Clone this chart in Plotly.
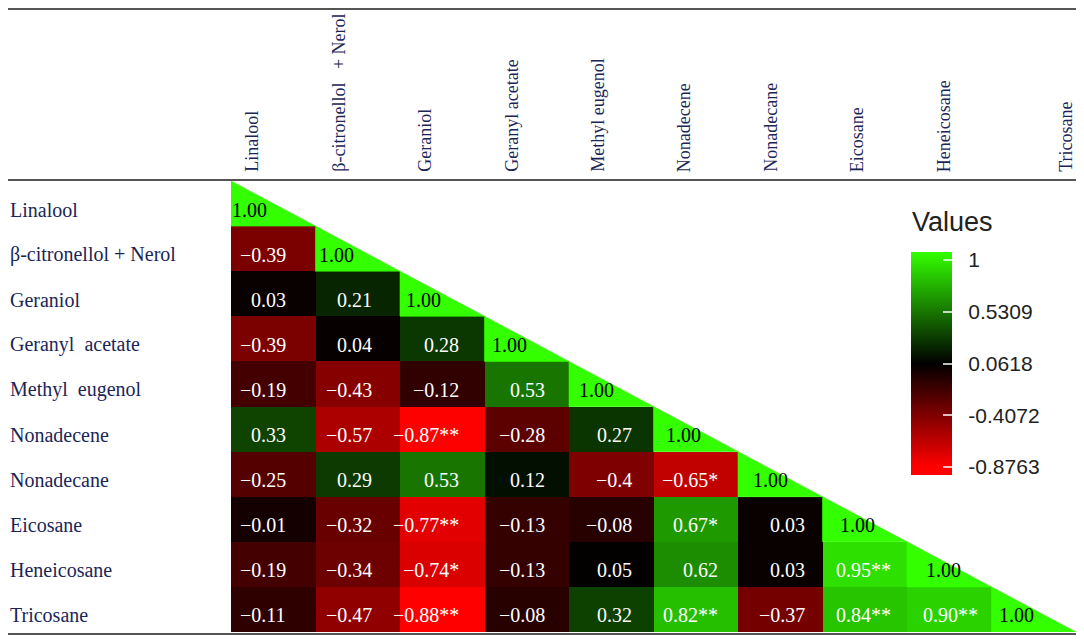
"""lower-triangle correlation heatmap of volatile compounds"""

import plotly.graph_objects as go

# compound names (rows top to bottom, columns left to right)
compounds = ['Linalool', 'β-citronellol + Nerol', 'Geraniol', 'Geranyl  acetate', 'Methyl  eugenol',
             'Nonadecene', 'Nonadecane', 'Eicosane', 'Heneicosane', 'Tricosane']
# column headers as printed on top
headers = ['Linalool', 'β-citronellol   + Nerol', 'Geraniol', 'Geranyl acetate', 'Methyl eugenol',
           'Nonadecene', 'Nonadecane', 'Eicosane', 'Heneicosane', 'Tricosane']

# lower triangle of the correlation matrix, as printed (stars = significance)
corr_rows = [
    [],
    ['-0.39'],
    ['0.03', '0.21'],
    ['-0.39', '0.04', '0.28'],
    ['-0.19', '-0.43', '-0.12', '0.53'],
    ['0.33', '-0.57', '-0.87**', '-0.28', '0.27'],
    ['-0.25', '0.29', '0.53', '0.12', '-0.4', '-0.65*'],
    ['-0.01', '-0.32', '-0.77**', '-0.13', '-0.08', '0.67*', '0.03'],
    ['-0.19', '-0.34', '-0.74*', '-0.13', '0.05', '0.62', '0.03', '0.95**'],
    ['-0.11', '-0.47', '-0.88**', '-0.08', '0.32', '0.82**', '-0.37', '0.84**', '0.90**'],
]
diag_text = '1.00'

# colorbar ticks
cbar_ticks = [1, 0.5309, 0.0618, -0.4072, -0.8763]

n = len(compounds)
# the page has an 8px body margin, keep the figure inside the window
PAD = 8
W, H = 1084 - 2 * PAD, 643 - 2 * PAD
navy = '#1b2657'
green = '#33ff00'

# colour range: bar runs a bit past the outer ticks, black sits on the middle tick
zlo, zhi = -0.95, 1.0736
red_stop = (min(cbar_ticks) - zlo) / (zhi - zlo)
mid_stop = (cbar_ticks[2] - zlo) / (zhi - zlo)


def px_x(x):
    # window pixel -> paper x
    return min(max((x - PAD) / W, 0), 1)


def px_y(y):
    # window pixel -> paper y
    return min(max(1 - (y - PAD) / H, 0), 1)


# build z matrix (nan on/above the diagonal)
z = [[None] * n for _ in range(n)]
for i, row in enumerate(corr_rows):
    for j, s in enumerate(row):
        z[i][j] = float(s.rstrip('*'))

fig = go.Figure()

fig.add_trace(go.Heatmap(
    z=z, x=list(range(n)), y=list(range(n)),
    zmin=zlo, zmax=zhi,
    colorscale=[[0, '#ff0000'], [red_stop, '#ff0000'], [mid_stop, '#000000'], [1, green]],
    hoverongaps=False,
    colorbar=dict(
        tickvals=cbar_ticks, ticktext=['\u00a0\u00a0' + str(t) for t in cbar_ticks],
        tickfont=dict(family='Liberation Sans', size=21, color='#222'),
        ticks='inside', ticklen=9, tickcolor='rgba(255,255,255,0.75)', tickwidth=1.5,
        thickness=41, thicknessmode='pixels',
        len=223, lenmode='pixels',
        x=px_x(911), xanchor='left', y=px_y(252), yanchor='top',
        xpad=0, ypad=0, outlinewidth=0,
    ),
))

# diagonal cells: green lower-left triangles
tx, ty = [], []
for i in range(n):
    tx += [i - 0.5, i - 0.5, i + 0.5, i - 0.5, None]
    ty += [i - 0.5, i + 0.5, i + 0.5, i - 0.5, None]
fig.add_trace(go.Scatter(x=tx, y=ty, mode='lines', fill='toself', fillcolor=green,
                         line=dict(color=green, width=0.6), hoverinfo='skip', showlegend=False))

annotations = []
# cell values (right aligned, the printed grid drifts a little to the right)
for i, row in enumerate(corr_rows):
    for j, s in enumerate(row):
        annotations.append(dict(x=j + 0.5, y=i, xref='x', yref='y', text=s.replace('-', '−'),
                                showarrow=False, xanchor='right', xshift=-28 + 2 * j, yshift=-6,
                                font=dict(family='Liberation Serif', size=20, color='white')))
    dshift = -1 + 2.3 * i if i < n - 1 else 5
    annotations.append(dict(x=i - 0.5, y=i, xref='x', yref='y', text=diag_text,
                            showarrow=False, xanchor='left', xshift=dshift, yshift=-6,
                            font=dict(family='Liberation Serif', size=20, color='black')))

# row labels
for i, name in enumerate(compounds):
    annotations.append(dict(x=px_x(8), y=i, xref='paper', yref='y', text=name.replace('  ', '\u00a0 '),
                            showarrow=False, xanchor='left', yshift=-6,
                            font=dict(family='Liberation Serif', size=20, color=navy)))

# column headers (rotated)
for i, name in enumerate(headers):
    shift = -21 + 2 * i if i < n - 1 else 32
    annotations.append(dict(x=i, y=px_y(174), xref='x', yref='paper', text=name.replace('   ', '\u00a0\u00a0\u00a0'),
                            showarrow=False, textangle=-90, xanchor='center', yanchor='bottom', xshift=shift,
                            font=dict(family='Liberation Serif', size=18, color=navy)))

# colorbar title
annotations.append(dict(x=px_x(910), y=px_y(222), xref='paper', yref='paper', text='Values',
                        showarrow=False, xanchor='left', yanchor='middle',
                        font=dict(family='Liberation Sans', size=27, color='#222')))

# horizontal rules of the table
shapes = []
for yp in [9, 180, 634]:
    shapes.append(dict(type='line', xref='paper', yref='paper', x0=0, x1=1,
                       y0=px_y(yp), y1=px_y(yp), line=dict(color='#555', width=2)))

fig.update_layout(
    width=W, height=H,
    margin=dict(l=0, r=0, t=0, b=0),
    paper_bgcolor='white', plot_bgcolor='white',
    xaxis=dict(visible=False, range=[-0.5, n - 0.5], domain=[px_x(231), px_x(1076)], fixedrange=True),
    yaxis=dict(visible=False, range=[n - 0.5, -0.5], domain=[px_y(632), px_y(181)], fixedrange=True),
    annotations=annotations,
    shapes=shapes,
    showlegend=False,
)

fig.write_html("out.html")
